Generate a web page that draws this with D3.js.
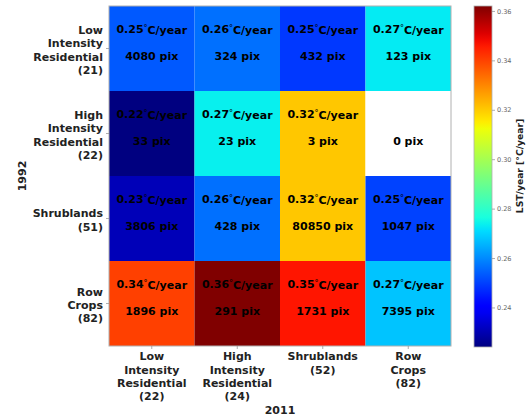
<!DOCTYPE html>
<html>
<head>
<meta charset="utf-8">
<script src="https://cdn.jsdelivr.net/npm/d3@7"></script>
<style>
  html, body { margin: 0; padding: 0; background: #fff; }
  svg { display: block; }
  svg text { font-family: "DejaVu Sans", sans-serif; }
</style>
</head>
<body>
<svg id="chart" width="531" height="419"></svg>
<script>
// ---- data ----
const rowCategories = [["Low", "Intensity", "Residential", "(21)"],
                       ["High", "Intensity", "Residential", "(22)"],
                       ["Shrublands", "(51)"],
                       ["Row", "Crops", "(82)"]];
const colCategories = [["Low", "Intensity", "Residential", "(22)"],
                       ["High", "Intensity", "Residential", "(24)"],
                       ["Shrublands", "(52)"],
                       ["Row", "Crops", "(82)"]];
const lstRate = [[0.2533, 0.2564, 0.2488, 0.2730],
                 [0.2240, 0.2737, 0.3205, null],
                 [0.2307, 0.2564, 0.3205, 0.2502],
                 [0.3403, 0.3620, 0.3465, 0.2678]];
const pixelCount = [[4080, 324, 432, 123],
                    [33, 23, 3, 0],
                    [3806, 428, 80850, 1047],
                    [1896, 291, 1731, 7395]];
const colorTicks = [0.24, 0.26, 0.28, 0.30, 0.32, 0.34, 0.36];
const colorDomain = [0.224, 0.362];
const xTitle = "2011";
const yTitle = "1992";
const cbTitle = "LST/year [°C/year]";

(function () {
const FONT = "DejaVu Sans";
// ---- jet colormap ----
function seg(pts, t) {
  for (let i = 0; i < pts.length - 1; i++) {
    const [x0, y0] = pts[i], [x1, y1] = pts[i + 1];
    if (t >= x0 && t <= x1) return y0 + (y1 - y0) * (t - x0) / (x1 - x0);
  }
  return pts[pts.length - 1][1];
}
function jet(t) {
  t = Math.max(0, Math.min(1, t));
  const r = seg([[0, 0], [0.35, 0], [0.66, 1], [0.89, 1], [1, 0.5]], t);
  const g = seg([[0, 0], [0.125, 0], [0.375, 1], [0.64, 1], [0.91, 0], [1, 0]], t);
  const b = seg([[0, 0.5], [0.11, 1], [0.34, 1], [0.65, 0], [1, 0]], t);
  return d3.rgb(r * 255, g * 255, b * 255).formatHex();
}

const svg = d3.select("#chart");
const mLeft = 109, mRight = 451, mTop = 6, mBottom = 346;

const x = d3.scaleBand().domain(d3.range(colCategories.length)).range([mLeft, mRight]);
const y = d3.scaleBand().domain(d3.range(rowCategories.length)).range([mTop, mBottom]);
const color = d3.scaleSequential(jet).domain(colorDomain);
const fmt = d3.format(".2f");

// cells
const cells = [];
lstRate.forEach((row, i) => row.forEach((v, j) => cells.push({i, j, v, n: pixelCount[i][j]})));

const g = svg.append("g");
g.selectAll("rect.cell").data(cells).join("rect")
  .attr("class", "cell")
  .attr("x", d => x(d.j)).attr("y", d => y(d.i))
  .attr("width", x.bandwidth()).attr("height", y.bandwidth())
  .attr("fill", d => d.v == null ? "#ffffff" : color(d.v));

// cell texts
const rateText = g.selectAll("text.rate").data(cells.filter(d => d.v != null)).join("text")
  .attr("class", "rate")
  .attr("x", d => x(d.j) + x.bandwidth() / 2)
  .attr("y", d => y(d.i) + y.bandwidth() / 2 - 19.5)
  .attr("dy", "0.35em")
  .attr("text-anchor", "middle").attr("font-family", FONT)
  .attr("font-size", 11).attr("font-weight", "bold").attr("fill", "#000");
rateText.append("tspan").text(d => fmt(d.v));
rateText.append("tspan").attr("font-weight", "normal").attr("font-size", 8).attr("dy", "-0.25em").text("°");
rateText.append("tspan").attr("dy", "0.25em").text("C/year");

g.selectAll("text.pix").data(cells).join("text")
  .attr("class", "pix")
  .attr("x", d => x(d.j) + x.bandwidth() / 2)
  .attr("y", d => y(d.i) + y.bandwidth() / 2 + 7.5)
  .attr("dy", "0.35em")
  .attr("text-anchor", "middle").attr("font-family", FONT)
  .attr("font-size", 11).attr("font-weight", "bold").attr("fill", "#000")
  .text(d => d.n + " pix");

// frame
svg.append("rect").attr("x", mLeft).attr("y", mTop)
  .attr("width", mRight - mLeft).attr("height", mBottom - mTop)
  .attr("fill", "none").attr("stroke", "#b0b0b0").attr("stroke-width", 1);

// axes
const xAxis = svg.append("g").attr("transform", `translate(0,${mBottom})`)
  .call(d3.axisBottom(x).tickSize(3).tickFormat(""));
const yAxis = svg.append("g").attr("transform", `translate(${mLeft},0)`)
  .call(d3.axisLeft(y).tickSize(3).tickFormat(""));
[xAxis, yAxis].forEach(a => {
  a.attr("font-family", FONT);
  a.select(".domain").remove();
  a.selectAll(".tick line").attr("stroke", "#999").attr("stroke-width", 0.8);
});

const lh = 13.3;
xAxis.selectAll(".tick").each(function(d) {
  const t = d3.select(this).append("text")
    .attr("text-anchor", "middle").attr("font-size", 11).attr("font-weight", "bold")
    .attr("font-family", FONT).attr("fill", "#222").attr("y", 5);
  colCategories[d].forEach((s, k) => t.append("tspan").attr("x", 0).attr("y", 5 + k * lh).attr("dy", "0.85em").text(s));
});
yAxis.selectAll(".tick").each(function(d) {
  const lines = rowCategories[d];
  const t = d3.select(this).append("text")
    .attr("text-anchor", "end").attr("font-size", 11).attr("font-weight", "bold")
    .attr("font-family", FONT).attr("fill", "#222");
  const y0 = -(lines.length - 1) * lh / 2 + 1.5;
  lines.forEach((s, k) => t.append("tspan").attr("x", -6).attr("y", y0 + k * lh).attr("dy", "0.35em").text(s));
});

svg.append("text").attr("x", (mLeft + mRight) / 2).attr("y", 410).attr("dy", "0.35em")
  .attr("text-anchor", "middle").attr("font-size", 11).attr("font-weight", "bold").attr("fill", "#222")
  .attr("font-family", FONT).text(xTitle);
svg.append("text").attr("transform", `translate(22,${(mTop + mBottom) / 2}) rotate(-90)`).attr("dy", "0.35em")
  .attr("text-anchor", "middle").attr("font-size", 11).attr("font-weight", "bold").attr("fill", "#222")
  .attr("font-family", FONT).text(yTitle);

// colorbar
const cbX = 474, cbW = 18, cbTop = 6, cbBot = 347;
const defs = svg.append("defs");
const grad = defs.append("linearGradient").attr("id", "jetgrad")
  .attr("x1", 0).attr("y1", 1).attr("x2", 0).attr("y2", 0);
d3.range(0, 1.0001, 0.02).forEach(t => grad.append("stop").attr("offset", t).attr("stop-color", jet(t)));
svg.append("rect").attr("x", cbX).attr("y", cbTop).attr("width", cbW).attr("height", cbBot - cbTop)
  .attr("fill", "url(#jetgrad)").attr("stroke", "#b0b0b0").attr("stroke-width", 0.8);
const cbScale = d3.scaleLinear().domain(colorDomain).range([cbBot, cbTop]);
const cbAxis = svg.append("g").attr("transform", `translate(${cbX + cbW},0)`)
  .call(d3.axisRight(cbScale).tickValues(colorTicks).tickFormat(fmt).tickSize(3).tickPadding(2));
cbAxis.attr("font-family", FONT);
cbAxis.select(".domain").remove();
cbAxis.selectAll(".tick line").attr("stroke", "#999").attr("stroke-width", 0.8);
cbAxis.selectAll(".tick text").attr("font-size", 6.5).attr("fill", "#666").attr("font-family", FONT);

svg.append("text").attr("transform", `translate(520,166) rotate(-90)`).attr("dy", "0.35em")
  .attr("text-anchor", "middle").attr("font-size", 9.2).attr("font-weight", "bold").attr("fill", "#222")
  .attr("font-family", FONT).text(cbTitle);
})();
</script>
</body>
</html>
